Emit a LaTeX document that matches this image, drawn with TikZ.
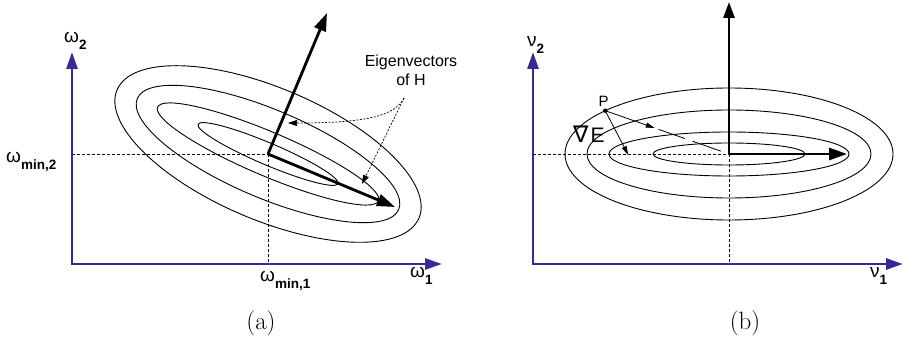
\documentclass[tikz,border=0pt]{standalone}
\usepackage{fontspec}
\usetikzlibrary{arrows.meta,calc}
\newfontfamily\labfont{Liberation Sans}
\newfontfamily\symfont{DejaVu Sans}
\definecolor{axisblue}{RGB}{58,40,150}
\newcommand\axislab[2]{{\fontsize{19}{19}\selectfont #1}\raisebox{-7pt}{\fontsize{13.5}{13.5}\selectfont\bfseries #2}}
\tikzset{
  axisline/.style={draw=axisblue, line width=2.8pt, {Triangle[length=17pt,width=11pt]}-{Triangle[length=17pt,width=11pt]}},
  contour/.style={draw=black, line width=0.9pt},
  eigvec/.style={draw=black, line width=2.8pt, -{Triangle[length=18pt,width=12pt]}},
  guide/.style={draw=black, line width=0.8pt, dash pattern=on 3pt off 2pt},
  notearrow/.style={draw=black, line width=0.7pt, dash pattern=on 2pt off 1.5pt, -{Triangle[length=9pt,width=6pt]}},
  thinarrow/.style={draw=black, line width=0.8pt, -{Triangle[length=9pt,width=5pt]}},
  axlabel/.style={anchor=base west, inner sep=0pt, font=\labfont},
  caption/.style={inner sep=0pt, font=\fontsize{25}{25}\selectfont}
}
\begin{document}
\begin{tikzpicture}[x=1pt,y=1pt]
\path[use as bounding box, fill=white] (0,0) rectangle (904,342);

% ---------------- panel (a) ----------------
\coordinate (Oa) at (72,78);
\coordinate (YA) at (72,290);
\coordinate (XA) at (442,78);
\coordinate (Ca) at (268,188);
\coordinate (Ca2) at (72,188);
\coordinate (Ca1) at (268,78);
\coordinate (Ea1) at (395,135);
\coordinate (Ea2) at (327,329);

\draw[guide] (Ca2) -- (Ca);
\draw[guide] (Ca) -- (Ca1);
\foreach \a/\b in {76/11,120/22,142/44,164/66}
  \draw[contour, shift={(Ca)}, rotate=-23] (0,0) ellipse [x radius=\a pt, y radius=\b pt];
\draw[axisline] (YA) -- (Oa) -- (XA);
\draw[eigvec] (Ca) -- (Ea1);
\draw[eigvec] (Ca) -- (Ea2);

\node[anchor=north, align=center, inner sep=0pt, font=\labfont\fontsize{16}{19}\selectfont] (ev) at (411,287) {Eigenvectors\\of H};
\coordinate (S) at (404,244);
\coordinate (T1) at (288,219);
\coordinate (T2) at (362,158);
\draw[notearrow] (S) .. controls (395,227) and (370,219) .. (T1);
\draw[notearrow] (S) -- (T2);

\node[axlabel] (w2) at (64,299) {\axislab{ω}{2}};
\node[axlabel] (wm2) at (6,179) {\axislab{ω}{min,2}};
\node[axlabel] (wm1) at (260,60) {\axislab{ω}{min,1}};
\node[axlabel] (w1) at (410,64) {\axislab{ω}{1}};
\node[caption] (capa) at (261,19) {(a)};

% ---------------- panel (b) ----------------
\coordinate (Ob) at (533,78);
\coordinate (YB) at (533,290);
\coordinate (XB) at (903,78);
\coordinate (Cb) at (729,188);
\coordinate (Cb2) at (533,188);
\coordinate (Cb1) at (729,78);
\coordinate (Eb1) at (847,188);
\coordinate (Eb2) at (729,340);

\draw[guide] (Cb2) -- (Cb);
\draw[guide] (Cb) -- (Cb1);
\foreach \a/\b in {76/11,120/22,142/44,164/66}
  \draw[contour] (Cb) ellipse [x radius=\a pt, y radius=\b pt];
\draw[axisline] (YB) -- (Ob) -- (XB);
\draw[eigvec] (Cb) -- (Eb1);
\draw[eigvec, -{Triangle[length=16pt,width=11pt]}] (Cb) -- (Eb2);

\coordinate (P) at ($(Cb)+(139:164pt and 66pt)$);
\coordinate (Pg) at (628.3,187);
\coordinate (Pm) at ($(P)!0.4!(Cb)$);
\draw[thinarrow] (P) -- (Pg);
\draw[thinarrow] (P) -- (Pm);
\draw[line width=0.8pt, dash pattern=on 0pt off 4pt on 28pt off 8pt on 30pt off 10pt] (Pm) -- (Cb);
\fill (P) circle (2.2pt);
\node[anchor=base, inner sep=0pt, font=\labfont\fontsize{15}{15}\selectfont] (Plab) at (603.5,235.3) {P};
\node[anchor=base west, inner sep=0pt, font=\labfont\fontsize{21}{21}\selectfont] (gradE) at (573,199) {{\symfont\fontsize{23}{23}\selectfont ∇}\hspace{2pt}E};

\node[axlabel] (v2) at (527,295) {\axislab{ν}{2}};
\node[axlabel] (v1) at (870,64) {\axislab{ν}{1}};
\node[caption] (capb) at (745,19) {(b)};
\end{tikzpicture}
\end{document}
